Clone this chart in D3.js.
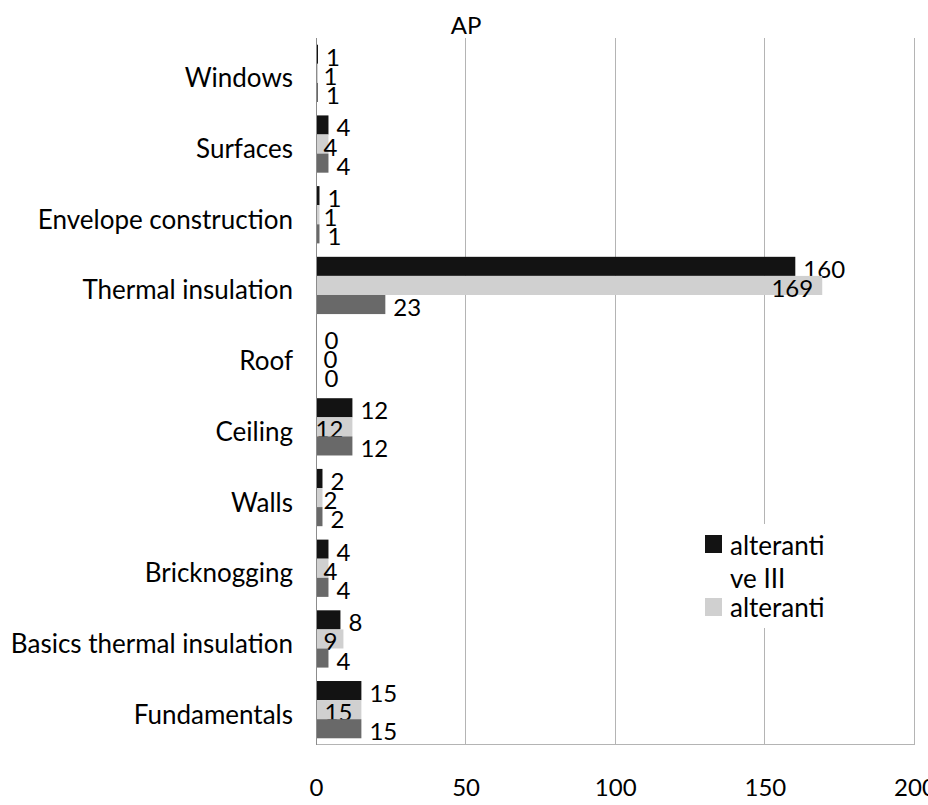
<!DOCTYPE html>
<html>
<head>
<meta charset="utf-8">
<script src="https://cdn.jsdelivr.net/npm/d3@7"></script>
<style>
  body { margin: 0; background: #fff; }
  svg text { font-family: Lato, "Open Sans", sans-serif; fill: #000; }
</style>
</head>
<body>
<div id="chart"></div>
<script>
// chart data
const categories = ["Windows", "Surfaces", "Envelope construction", "Thermal insulation", "Roof",
                    "Ceiling", "Walls", "Bricknogging", "Basics thermal insulation", "Fundamentals"];
const seriesBlack = [0.5, 4, 1, 160, 0, 12, 2, 4, 8, 15];
const seriesLight = [0.5, 4, 1, 169, 0, 12, 2, 4, 9, 15];
const seriesDark  = [0.5, 4, 1, 23, 0, 12, 2, 4, 4, 15];
const xTicks = [0, 50, 100, 150, 200];
const legendItems = [["alteranti", "ve III"], ["alteranti"]];
const chartTitle = "AP";

let width = 928, height = 805;
let colBlack = '#131313',
    colLight = '#d0d0d0',
    colDark = '#696969',
    gridColor = '#b4b4b4';

let svg = d3.select('#chart').append('svg')
    .attr('width', width)
    .attr('height', height);

let x = d3.scaleLinear().domain([0, 200]).range([316.5, 915]);
let y = d3.scaleBand().domain(categories).range([38, 745])
    .paddingInner(0.19).paddingOuter(0.095);
let ySub = d3.scaleBand().domain([0, 1, 2]).range([0, y.bandwidth()]);

// gridlines
svg.append('g').selectAll('line')
    .data(xTicks.slice(1))
    .enter().append('line')
    .attr('x1', d => Math.round(x(d)) - 0.5).attr('x2', d => Math.round(x(d)) - 0.5)
    .attr('y1', 38).attr('y2', 745)
    .attr('stroke', gridColor).attr('stroke-width', 1);

// bottom line
svg.append('line')
    .attr('x1', x(0)).attr('x2', x(200))
    .attr('y1', 744.5).attr('y2', 744.5)
    .attr('stroke', gridColor);

// bars
let series = [
    {vals: seriesBlack, color: colBlack, mode: 'out'},
    {vals: seriesLight, color: colLight, mode: 'light'},
    {vals: seriesDark, color: colDark, mode: 'out'}
];

series.forEach(function(s, si) {
    let grp = svg.append('g');
    grp.selectAll('rect')
        .data(s.vals)
        .enter().append('rect')
        .attr('x', x(0))
        .attr('y', (d, i) => y(categories[i]) + ySub(si))
        .attr('width', d => x(d) - x(0))
        .attr('height', ySub.bandwidth())
        .attr('fill', s.color);

    grp.selectAll('text')
        .data(s.vals)
        .enter().append('text')
        .attr('x', function(d) {
            if (s.mode == 'light') return Math.max(x(d) - 9, x(0) + 21);
            return x(d) + 8;
        })
        .attr('y', (d, i) => y(categories[i]) + ySub(si) + ySub.bandwidth() / 2 + 2)
        .attr('dominant-baseline', 'central')
        .attr('text-anchor', s.mode == 'light' ? 'end' : 'start')
        .style('font-size', '24px')
        .text(d => Math.round(d));
});

// zero axis on top of bars
svg.append('line')
    .attr('x1', 316.5).attr('x2', 316.5)
    .attr('y1', 38).attr('y2', 745)
    .attr('stroke', '#8c8c8c');

// category labels
svg.append('g').selectAll('text')
    .data(categories)
    .enter().append('text')
    .attr('x', 293)
    .attr('y', d => y(d) + y.bandwidth() / 2 + 4)
    .attr('dominant-baseline', 'central')
    .attr('text-anchor', 'end')
    .style('font-size', '26px')
    .text(d => d);

// x tick labels
svg.append('g').selectAll('text')
    .data(xTicks)
    .enter().append('text')
    .attr('x', d => x(d))
    .attr('y', 786)
    .attr('dominant-baseline', 'central')
    .attr('text-anchor', 'middle')
    .style('font-size', '24px')
    .text(d => d);

// title
svg.append('text')
    .attr('x', x(50))
    .attr('y', 24)
    .attr('dominant-baseline', 'central')
    .attr('text-anchor', 'middle')
    .style('font-size', '24px')
    .text(chartTitle);

// legend
let legend = svg.append('g');
legend.append('rect')
    .attr('x', 698).attr('y', 524)
    .attr('width', 206).attr('height', 104)
    .attr('fill', '#fff');
let legColors = [colBlack, colLight];
legendItems.forEach(function(lines, li) {
    let entryY = 545 + li * 62;
    legend.append('rect')
        .attr('x', 705).attr('y', entryY - 10 + li)
        .attr('width', 17).attr('height', 18)
        .attr('fill', legColors[li]);
    lines.forEach(function(t, k) {
        legend.append('text')
            .attr('x', 730).attr('y', entryY + k * 33)
            .attr('dominant-baseline', 'central')
            .style('font-size', '26px')
            .text(t);
    });
});
</script>
</body>
</html>
